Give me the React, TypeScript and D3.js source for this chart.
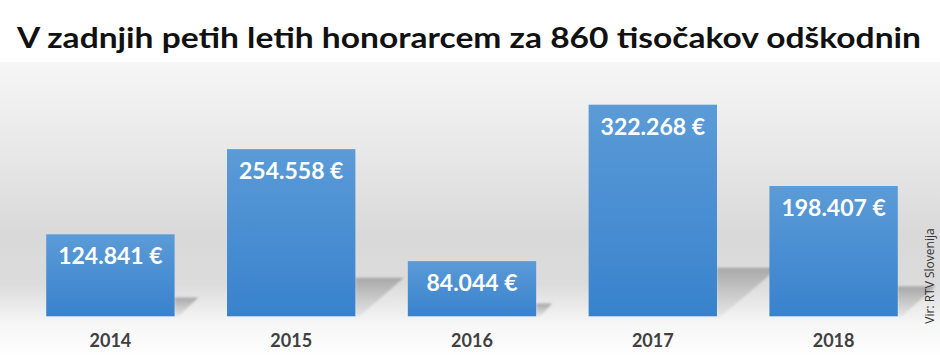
import React from 'react';
import * as d3 from 'd3';

const years = ['2014', '2015', '2016', '2017', '2018'];
const amounts = [124841, 254558, 84044, 322268, 198407];
const amountLabels = ['124.841 €', '254.558 €', '84.044 €', '322.268 €', '198.407 €'];
const title = 'V zadnjih petih letih honorarcem za 860 tisočakov odškodnin';
const source = 'Vir: RTV Slovenija';

const W = 940;
const H = 359;
const baseline = 316.3;
const font = 'Lato, "Open Sans", "DejaVu Sans", sans-serif';

const App = () => {
  const x = d3.scaleBand<string>()
    .domain(years)
    .range([20, 924])
    .paddingInner(0.29)
    .paddingOuter(0.145);

  // 322268 -> ~211.6px tall
  const y = d3.scaleLinear()
    .domain([0, 322268])
    .range([baseline, baseline - 211.6]);

  const bw = x.bandwidth();

  return (
    <svg width={W} height={H} style={{ position: 'absolute', left: 0, top: 0 }}>
      <defs>
        <linearGradient id="bg" x1="0" y1="0" x2="0" y2="1">
          <stop offset="0%" stopColor="#f6f6f6" />
          <stop offset="30%" stopColor="#e8e8e8" />
          <stop offset="58%" stopColor="#d9d9d9" />
          <stop offset="75%" stopColor="#dcdcdc" />
          <stop offset="88%" stopColor="#f6f6f6" />
          <stop offset="100%" stopColor="#ffffff" />
        </linearGradient>
        <linearGradient id="bar" x1="0" y1="0" x2="0" y2="1">
          <stop offset="0%" stopColor="#5b9bd7" />
          <stop offset="100%" stopColor="#3882cd" />
        </linearGradient>
        <linearGradient id="shadow" x1="0" y1="0" x2="0" y2="1">
          <stop offset="0%" stopColor="#a8a8a8" />
          <stop offset="100%" stopColor="#e6e6e6" />
        </linearGradient>
        <filter id="blur" x="-20%" y="-20%" width="140%" height="140%">
          <feGaussianBlur stdDeviation="0.8" />
        </filter>
      </defs>

      <rect x={0} y={0} width={W} height={H} fill="#ffffff" />
      <rect x={0} y={62} width={W} height={H - 62} fill="url(#bg)" />

      <text
        x={469}
        y={48}
        textAnchor="middle"
        fontFamily={font}
        fontWeight="bold"
        fontSize={29}
        fill="#111"
        textLength={904}
        lengthAdjust="spacingAndGlyphs"
      >
        {title}
      </text>

      {/* floor shadows */}
      {years.map((yr, i) => {
        const right = (x(yr) as number) + bw;
        const h = baseline - y(amounts[i]);
        const sh = h * 0.23;
        const sw = h * 0.29;
        const pts = [
          [right, baseline],
          [right, baseline - sh],
          [right + sw, baseline - sh],
          [right + 4, baseline],
        ].map(p => p.join(',')).join(' ');
        return <polygon key={'s' + yr} points={pts} fill="url(#shadow)" filter="url(#blur)" />;
      })}

      {years.map((yr, i) => (
        <rect
          key={yr}
          x={x(yr)}
          y={y(amounts[i])}
          width={bw}
          height={baseline - y(amounts[i])}
          fill="url(#bar)"
        />
      ))}

      {years.map((yr, i) => (
        <text
          key={'v' + yr}
          x={(x(yr) as number) + bw / 2}
          y={y(amounts[i]) + 30}
          textAnchor="middle"
          fontFamily={font}
          fontWeight="bold"
          fontSize={23}
          fill="#ffffff"
        >
          {amountLabels[i]}
        </text>
      ))}

      {years.map(yr => (
        <text
          key={'l' + yr}
          x={(x(yr) as number) + bw / 2}
          y={347}
          textAnchor="middle"
          fontFamily={font}
          fontWeight="bold"
          fontSize={18}
          fill="#404040"
        >
          {yr}
        </text>
      ))}

      <text
        transform="translate(934, 276) rotate(-90)"
        textAnchor="middle"
        fontFamily='"Open Sans", sans-serif'
        fontSize={12}
        fill="#333"
      >
        {source}
      </text>
    </svg>
  );
};

export default App;
